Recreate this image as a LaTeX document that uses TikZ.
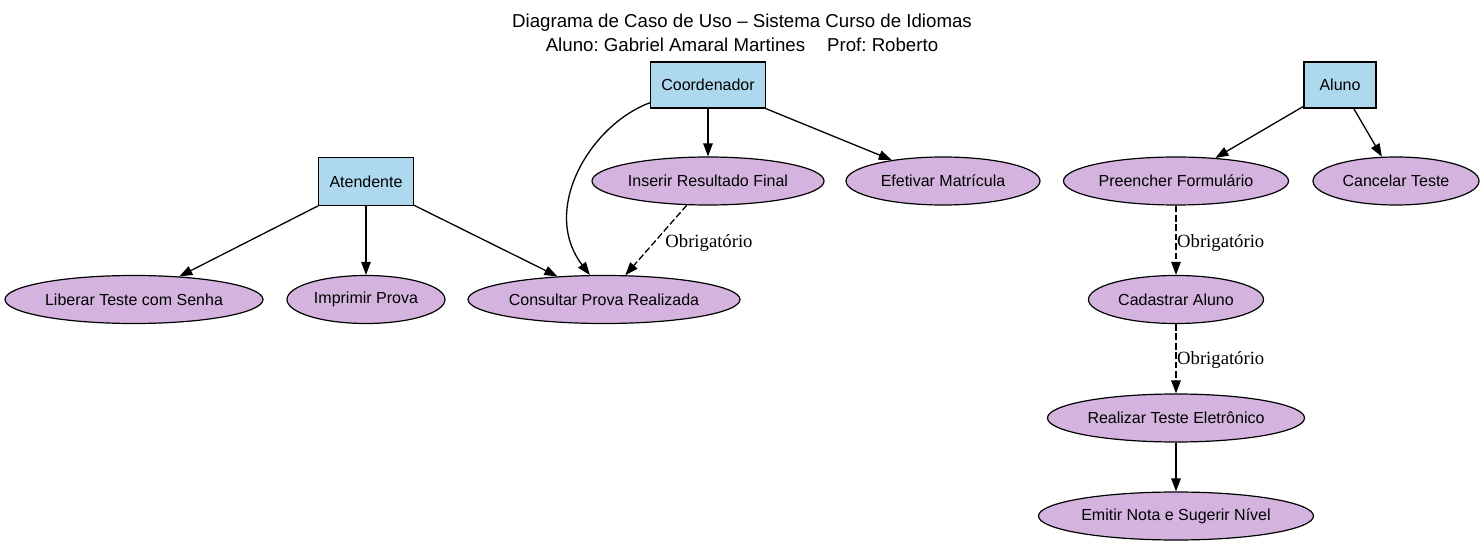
\documentclass[tikz,border=0pt]{standalone}
\usepackage{fontspec}
\setmainfont{Liberation Sans}
\newfontfamily\lblfont{Liberation Serif}
\usetikzlibrary{shapes.geometric,arrows.meta}
\definecolor{actorfill}{HTML}{ADD8EE}
\definecolor{ucfill}{HTML}{D4B4DE}
\frenchspacing
\begin{document}
\begin{tikzpicture}[x=1pt,y=-1pt,
 actor/.style={draw=black, fill=actorfill, line width=1.2pt, minimum width=#1, minimum height=46pt, inner sep=0pt, font=\fontsize{16}{18}\selectfont},
 usecase/.style={ellipse, draw=black, fill=ucfill, line width=1.2pt, minimum width=#1, minimum height=48pt, inner sep=0pt, font=\fontsize{16}{18}\selectfont},
 edge/.style={line width=1.3pt, -{Triangle[length=13pt,width=9.5pt]}},
 dep/.style={edge, dash pattern=on 6.7pt off 2.7pt},
 lbl/.style={font=\lblfont\fontsize{18.67}{20}\selectfont, inner sep=0pt}]
\fill[white] (0,0) rectangle (1484,545);
\useasboundingbox (0,0) rectangle (1484,545);

\node[align=center, font=\fontsize{18.67}{24}\selectfont] (title) at (742,32.5)
  {Diagrama de Caso de Uso – Sistema Curso de Idiomas\\Aluno: Gabriel Amaral Martines\hspace{22pt}Prof: Roberto};

\node[actor=115pt] (coord) at (708,85) {Coordenador};
\node[actor=95pt, minimum height=48pt] (atd) at (366,181.5) {Atendente};
\node[actor=72pt] (aluno) at (1340,85) {Aluno};

\node[usecase=232pt] (ins) at (708,181) {Inserir Resultado Final};
\node[usecase=194pt] (efe) at (943,181) {Efetivar Matrícula};
\node[usecase=225pt] (pre) at (1176,181) {Preencher Formulário};
\node[usecase=166pt] (can) at (1396,181) {Cancelar Teste};
\node[usecase=258pt] (lib) at (134,299.5) {Liberar Teste com Senha};
\node[usecase=158pt] (imp) at (366,299.5) {Imprimir Prova};
\node[usecase=272pt] (cons) at (604,299.5) {Consultar Prova Realizada};
\node[usecase=175pt] (cad) at (1176,299.5) {Cadastrar Aluno};
\node[usecase=257pt] (rea) at (1176,418) {Realizar Teste Eletrônico};
\node[usecase=275pt] (emi) at (1176,516) {Emitir Nota e Sugerir Nível};

\draw[edge] (coord) -- (ins);
\draw[edge] (coord) -- (efe);
\draw[edge] (coord.197) .. controls (590,125) and (540,210) .. (cons.120);
\draw[dep] (ins) -- (cons);
\node[lbl] (l1) at (709,243) {Obrigatório};

\draw[edge] (atd) -- (lib);
\draw[edge] (atd) -- (imp);
\draw[edge] (atd) -- (cons);

\draw[edge] (aluno) -- (pre);
\draw[edge] (aluno) -- (can);
\draw[dep] (pre) -- (cad);
\node[lbl, anchor=west] (l2) at (1177,243.5) {Obrigatório};
\draw[dep] (cad) -- (rea);
\node[lbl, anchor=west] (l3) at (1177,360.5) {Obrigatório};
\draw[edge] (rea) -- (emi);
\end{tikzpicture}
\end{document}
